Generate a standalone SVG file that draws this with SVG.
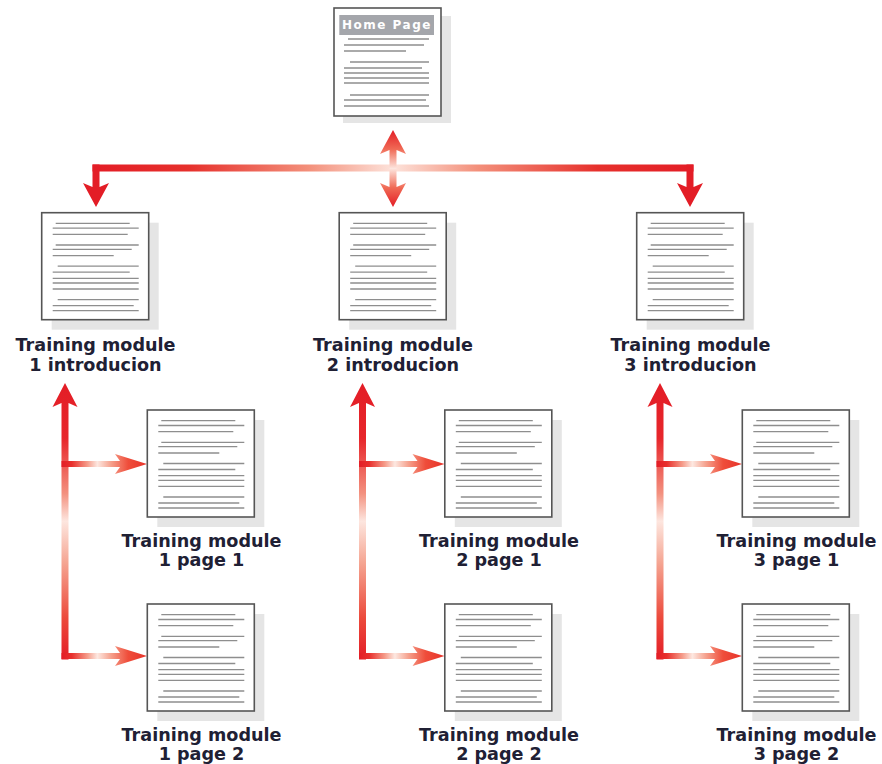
<svg xmlns="http://www.w3.org/2000/svg" xmlns:xlink="http://www.w3.org/1999/xlink" width="882" height="764" viewBox="0 0 882 764">
<style>
.shadow{fill:#e5e5e5}
.box{fill:#ffffff;stroke:#555555;stroke-width:1.6}
.ln{stroke:#8e8e8e;stroke-width:1.3}
.lbl{font-family:"DejaVu Sans","Liberation Sans",sans-serif;font-weight:bold;font-size:17.6px;fill:#202034;text-anchor:middle}
.hp{font-family:"DejaVu Sans","Liberation Sans",sans-serif;font-weight:bold;font-size:12px;letter-spacing:1.5px;fill:#ffffff}
</style>
<defs>
<linearGradient id="gTop" x1="0" y1="0" x2="1" y2="0">
<stop offset="0" stop-color="#e31d26"/>
<stop offset="0.16" stop-color="#e6302c"/>
<stop offset="0.36" stop-color="#f3907b"/>
<stop offset="0.5" stop-color="#fde3db"/>
<stop offset="0.64" stop-color="#f3907b"/>
<stop offset="0.84" stop-color="#e6302c"/>
<stop offset="1" stop-color="#e31d26"/>
</linearGradient>
<linearGradient id="gCenter" x1="0" y1="0" x2="0" y2="1">
<stop offset="0" stop-color="#e31d26"/>
<stop offset="0.25" stop-color="#f06a55"/>
<stop offset="0.5" stop-color="#fde5de"/>
<stop offset="0.75" stop-color="#f06a55"/>
<stop offset="1" stop-color="#e31d26"/>
</linearGradient>
<linearGradient id="gVert" x1="0" y1="0" x2="0" y2="1">
<stop offset="0" stop-color="#e31d26"/>
<stop offset="0.2" stop-color="#e7262b"/>
<stop offset="0.4" stop-color="#f3917f"/>
<stop offset="0.5" stop-color="#fde6df"/>
<stop offset="0.65" stop-color="#f5a592"/>
<stop offset="0.85" stop-color="#ec4a3c"/>
<stop offset="1" stop-color="#e31d26"/>
</linearGradient>
<linearGradient id="gBranch" x1="0" y1="0" x2="1" y2="0">
<stop offset="0" stop-color="#e31d26"/>
<stop offset="0.12" stop-color="#e8302d"/>
<stop offset="0.3" stop-color="#f59a88"/>
<stop offset="0.42" stop-color="#fde8e1"/>
<stop offset="0.58" stop-color="#f5a08c"/>
<stop offset="0.78" stop-color="#ef4d3a"/>
<stop offset="1" stop-color="#e7332b"/>
</linearGradient>
<polygon id="down" fill="#e31d26" points="-3.5,0 3.5,0 3.5,22.5 13,18.5 0,42.5 -13,18.5 -3.5,22.5"/>
<polygon id="vArrow" fill="url(#gVert)" points="0,0 12.5,24 3.5,20 3.5,276.5 -3.5,276.5 -3.5,20 -12.5,24"/>
<polygon id="branch" fill="url(#gBranch)" points="-3.5,-3 55,-3 50,-10 82,0 50,10 55,3 -3.5,3"/>
<g id="doc">
<rect class="shadow" x="10" y="10" width="107" height="107"/>
<rect class="box" x="0" y="0" width="107" height="107"/>
<g class="ln">
<line x1="14" y1="10.7" x2="88" y2="10.7"/>
<line x1="11" y1="15.5" x2="97" y2="15.5"/>
<line x1="11" y1="21.7" x2="86" y2="21.7"/>
<line x1="14" y1="32.3" x2="97" y2="32.3"/>
<line x1="11" y1="36.7" x2="90" y2="36.7"/>
<line x1="11" y1="43" x2="72" y2="43"/>
<line x1="16" y1="53.5" x2="97" y2="53.5"/>
<line x1="11" y1="59.5" x2="88" y2="59.5"/>
<line x1="11" y1="65.7" x2="97" y2="65.7"/>
<line x1="11" y1="70.3" x2="97" y2="70.3"/>
<line x1="11" y1="76.3" x2="97" y2="76.3"/>
<line x1="16" y1="87" x2="97" y2="87"/>
<line x1="11" y1="93" x2="92" y2="93"/>
<line x1="11" y1="98" x2="97" y2="98"/>
</g>
</g>
</defs>
<rect width="882" height="764" fill="#ffffff"/>

<g id="connectors">
<rect x="92.5" y="164.5" width="601" height="7" fill="url(#gTop)"/>
<use xlink:href="#down" x="96" y="164.5"/>
<use xlink:href="#down" x="690" y="164.5"/>
<polygon fill="url(#gCenter)" points="393,130 406,154 396.5,150 396.5,187 406,183 393,207 380,183 389.5,187 389.5,150 380,154"/>
<use xlink:href="#vArrow" x="65" y="383"/>
<use xlink:href="#vArrow" x="362.5" y="383"/>
<use xlink:href="#vArrow" x="660" y="383"/>
<use xlink:href="#branch" x="65" y="464"/>
<use xlink:href="#branch" x="65" y="656"/>
<use xlink:href="#branch" x="362.5" y="464"/>
<use xlink:href="#branch" x="362.5" y="656"/>
<use xlink:href="#branch" x="660" y="464"/>
<use xlink:href="#branch" x="660" y="656"/>
</g>

<g id="home">
<rect class="shadow" x="343" y="16" width="108" height="107"/>
<rect class="box" x="334" y="8" width="107" height="108"/>
<rect x="339.3" y="15" width="94.7" height="20" fill="#a4a6ab"/>
<text class="hp" x="342" y="29.3">Home Page</text>
<g class="ln">
<line x1="348" y1="39" x2="429" y2="39"/>
<line x1="344" y1="45" x2="424" y2="45"/>
<line x1="344" y1="51" x2="406" y2="51"/>
<line x1="350" y1="62" x2="429" y2="62"/>
<line x1="344" y1="68" x2="422" y2="68"/>
<line x1="344" y1="73" x2="429" y2="73"/>
<line x1="344" y1="78" x2="429" y2="78"/>
<line x1="344" y1="83" x2="429" y2="83"/>
<line x1="350" y1="95" x2="429" y2="95"/>
<line x1="344" y1="100" x2="426" y2="100"/>
<line x1="344" y1="106" x2="429" y2="106"/>
</g>
</g>

<g id="intro1">
<use xlink:href="#doc" x="41.7" y="212.7"/>
<text class="lbl" x="95.5" y="351">Training module</text>
<text class="lbl" x="95.5" y="371">1 introducion</text>
</g>
<g id="intro2">
<use xlink:href="#doc" x="339.2" y="212.7"/>
<text class="lbl" x="393" y="351">Training module</text>
<text class="lbl" x="393" y="371">2 introducion</text>
</g>
<g id="intro3">
<use xlink:href="#doc" x="636.7" y="212.7"/>
<text class="lbl" x="690.5" y="351">Training module</text>
<text class="lbl" x="690.5" y="371">3 introducion</text>
</g>

<g id="m1p1">
<use xlink:href="#doc" x="147.3" y="410"/>
<text class="lbl" x="201.5" y="547">Training module</text>
<text class="lbl" x="201.5" y="566">1 page 1</text>
</g>
<g id="m1p2">
<use xlink:href="#doc" x="147.3" y="604"/>
<text class="lbl" x="201.5" y="741">Training module</text>
<text class="lbl" x="201.5" y="760">1 page 2</text>
</g>
<g id="m2p1">
<use xlink:href="#doc" x="444.8" y="410"/>
<text class="lbl" x="499" y="547">Training module</text>
<text class="lbl" x="499" y="566">2 page 1</text>
</g>
<g id="m2p2">
<use xlink:href="#doc" x="444.8" y="604"/>
<text class="lbl" x="499" y="741">Training module</text>
<text class="lbl" x="499" y="760">2 page 2</text>
</g>
<g id="m3p1">
<use xlink:href="#doc" x="742.3" y="410"/>
<text class="lbl" x="796.5" y="547">Training module</text>
<text class="lbl" x="796.5" y="566">3 page 1</text>
</g>
<g id="m3p2">
<use xlink:href="#doc" x="742.3" y="604"/>
<text class="lbl" x="796.5" y="741">Training module</text>
<text class="lbl" x="796.5" y="760">3 page 2</text>
</g>
</svg>
